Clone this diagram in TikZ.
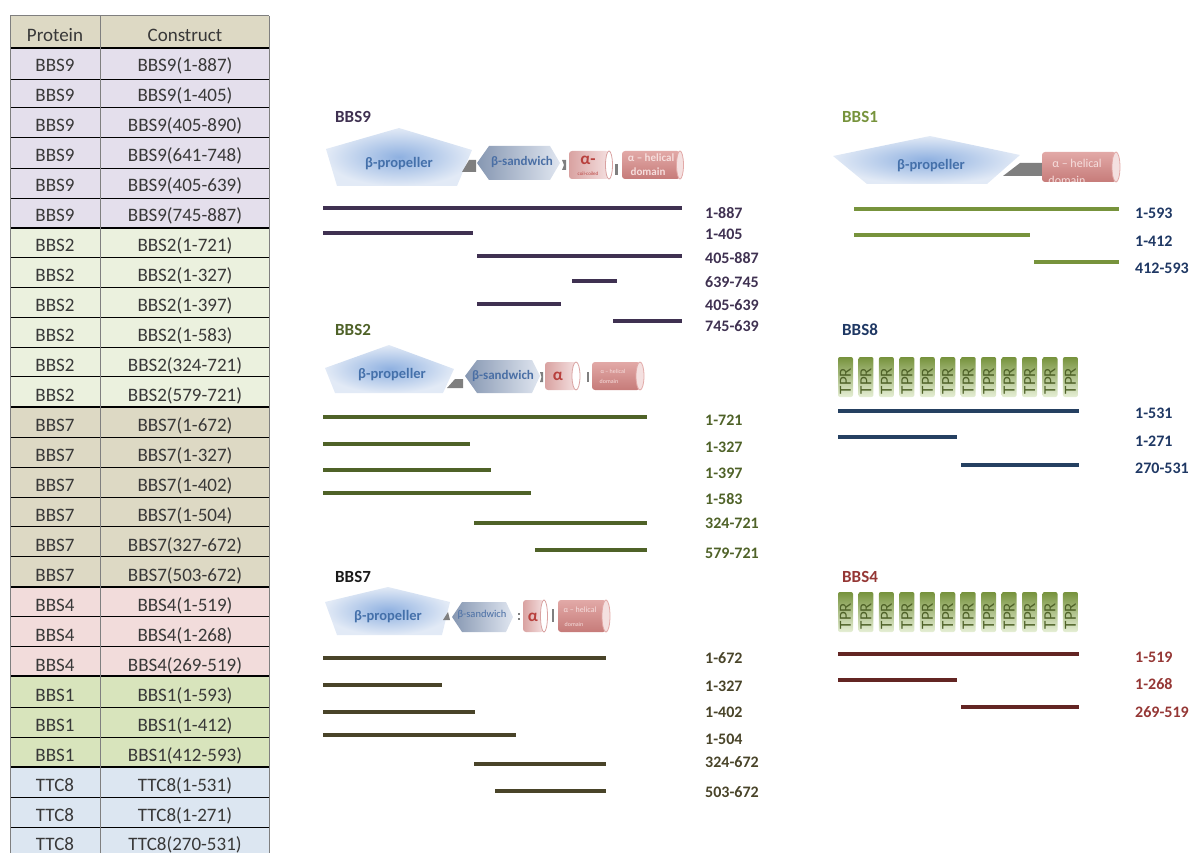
\documentclass[tikz,border=0pt]{standalone}
\usepackage{fontspec}
\setmainfont{Carlito}
\definecolor{TabInk}{HTML}{383838}
\definecolor{TabRule}{HTML}{7F7F7F}
\definecolor{TabHead}{HTML}{DDD9C4}
\definecolor{RowNine}{HTML}{E4DFEC}
\definecolor{RowTwo}{HTML}{EBF1DE}
\definecolor{RowSeven}{HTML}{DDD9C4}
\definecolor{RowFour}{HTML}{F2DCDB}
\definecolor{RowOne}{HTML}{D8E4BC}
\definecolor{RowTtc}{HTML}{DCE6F1}
\definecolor{InkNine}{HTML}{3F3151}
\definecolor{InkTwo}{HTML}{4F6228}
\definecolor{InkSeven}{HTML}{1A1A1A}
\definecolor{BarSeven}{HTML}{494429}
\definecolor{InkOne}{HTML}{77933C}
\definecolor{InkNavy}{HTML}{1F3864}
\definecolor{BarNavy}{HTML}{254061}
\definecolor{InkFour}{HTML}{953735}
\definecolor{BarFour}{HTML}{632523}
\definecolor{PropCore}{HTML}{8EB0E0}
\definecolor{PropRim}{HTML}{E2EAF6}
\definecolor{PropInk}{HTML}{4470AA}
\definecolor{SandDeep}{HTML}{8697B2}
\definecolor{SandPale}{HTML}{E0E6F0}
\definecolor{SandInk}{HTML}{4A6FA5}
\definecolor{LinkGray}{HTML}{7F7F7F}
\definecolor{CoilDeep}{HTML}{D9A2A1}
\definecolor{CoilPale}{HTML}{F4E0E0}
\definecolor{CoilInk}{HTML}{B8403D}
\definecolor{HelixPale}{HTML}{E2A9A7}
\definecolor{HelixDeep}{HTML}{C67B79}
\definecolor{HelixInk}{HTML}{F6DEDD}
\definecolor{TprDeep}{HTML}{76923C}
\definecolor{TprPale}{HTML}{E6EFD6}
\tikzset{
  every node/.style={inner sep=0pt},
  cell/.style={anchor=base, text=TabInk, font=\fontsize{19}{22}\selectfont},
  rowrule/.style={draw=black, line width=0.8pt},
  grouprule/.style={draw=black, line width=1.8pt},
  colrule/.style={draw=TabRule, line width=1pt},
  protname/.style={anchor=west, font=\fontsize{17}{20}\selectfont\bfseries},
  rangelab/.style={anchor=west, font=\fontsize{16}{19}\selectfont\bfseries},
  cbar/.style={line width=4pt},
  propeller/.style={inner color=PropCore, outer color=PropRim},
  proptext/.style={text=PropInk, font=\fontsize{14.5}{17}\selectfont\bfseries},
  sandwich/.style={left color=SandDeep, right color=SandPale},
  sandtext/.style={text=SandInk, font=\fontsize{13}{15}\selectfont\bfseries},
  linker/.style={fill=LinkGray},
  coilbody/.style={left color=CoilDeep, right color=CoilPale, rounded corners=3pt},
  coilcap/.style={fill=white, draw=CoilDeep, line width=0.8pt},
  coiltext/.style={text=CoilInk, font=\fontsize{17}{20}\selectfont\bfseries},
  tinytext/.style={text=CoilInk, font=\fontsize{5}{6}\selectfont},
  helixbody/.style={top color=HelixPale, bottom color=HelixDeep, rounded corners=3pt},
  helixcap/.style={fill=CoilPale, draw=HelixPale, line width=0.8pt},
  helixtext/.style={text=HelixInk, font=\fontsize{11}{13}\selectfont\bfseries},
  tprbox/.style={top color=TprDeep, bottom color=TprPale, rounded corners=2pt},
  tprtext/.style={rotate=90, text=InkTwo, font=\fontsize{17}{20}\selectfont},
}

\begin{document}
\begin{tikzpicture}[x=1pt, y=-1pt]
  \useasboundingbox (0,0) rectangle (1195,853);

  % Table of constructs
  \fill[TabHead] (10,16) rectangle (269,48);
  \foreach \ya/\yb/\tint in {48/228/RowNine, 228/407/RowTwo, 407/587/RowSeven,
      587/676/RowFour, 676/767/RowOne, 767/860/RowTtc}
    \fill[\tint] (10,\ya) rectangle (269,\yb);
  \foreach \y in {79,107,137,168,198,257,287,317,347,376,437,467,497,526,556,616,646,707,737,797,827}
    \draw[rowrule] (10,\y) -- (269,\y);
  \foreach \y in {48,228,407,587,676,767}
    \draw[grouprule] (10,\y) -- (269,\y);
  \draw[colrule] (10,16) -- (269,16);
  \foreach \x in {10,100,269}
    \draw[colrule] (\x,16) -- (\x,853);
  \node[cell] (headP) at (55,42) {Protein};
  \node[cell] (headC) at (185,42) {Construct};
  \foreach \prot/\cons [count=\i from 0] in {BBS9/1-887, BBS9/1-405, BBS9/405-890,
      BBS9/641-748, BBS9/405-639, BBS9/745-887, BBS2/1-721, BBS2/1-327, BBS2/1-397,
      BBS2/1-583, BBS2/324-721, BBS2/579-721, BBS7/1-672, BBS7/1-327, BBS7/1-402,
      BBS7/1-504, BBS7/327-672, BBS7/503-672, BBS4/1-519, BBS4/1-268, BBS4/269-519,
      BBS1/1-593, BBS1/1-412, BBS1/412-593, TTC8/1-531, TTC8/1-271, TTC8/270-531} {
    \node[cell] (prot\i) at (55,{48+29.96*\i+24}) {\prot};
    \node[cell] (cons\i) at (185,{48+29.96*\i+24}) {\prot(\cons)};
  }

  % BBS9 domains
  \node[protname, text=InkNine] (t9) at (335,117) {BBS9};
  \shade[propeller] (399,128) -- (472,150) -- (457,186) -- (337,186) -- (326,149) -- cycle;
  \node[proptext] (prop9) at (399,164) {β-propeller};
  \fill[linker] (462,172) -- (469,160) -- (476,160) -- (476,172) -- cycle;
  \shade[sandwich] (477,163) -- (489,146) -- (550,146) -- (560,163) -- (550,180) -- (489,180) -- cycle;
  \node[sandtext] (sand9) at (522,162) {β-sandwich};
  \fill[linker] (562,160) -- (566,160) -- (566,170) -- (562,170) -- (564,165) -- cycle;
  \shade[coilbody] (569,151) rectangle (609,179);
  \filldraw[coilcap] (609,165) ellipse [x radius=3.5, y radius=14];
  \node[coiltext] (coil9) at (588,160) {α-};
  \node[tinytext] (cc9) at (588,174) {coil-coiled};
  \fill[linker] (615,164) rectangle (618,175);
  \shade[helixbody] (622,151) rectangle (680,179);
  \filldraw[helixcap] (680,165) ellipse [x radius=3.5, y radius=14];
  \node[helixtext] (hx9) at (651,158) {α – helical};
  \node[helixtext] (dom9) at (648,172) {domain};

  % BBS9 constructs
  \foreach \a/\b/\y/\ly/\txt [count=\k] in {323/682/208/213/1-887, 323/473/233/234/1-405,
      477/682/256/258/405-887, 572/617/281/282/639-745, 477/561/304/305/405-639,
      613/682/321/326/745-639} {
    \draw[cbar, InkNine] (\a,\y) -- (\b,\y);
    \node[rangelab, text=InkNine] (r9\k) at (705,\ly) {\txt};
  }

  % BBS2 domains
  \node[protname, text=InkTwo] (t2) at (335,330) {BBS2};
  \shade[propeller] (389,345) -- (454,369) -- (443,393) -- (335,393) -- (325,368) -- cycle;
  \node[proptext] (prop2) at (392,375) {β-propeller};
  \fill[linker] (447,388) -- (455,379) -- (463,379) -- (463,388) -- cycle;
  \shade[sandwich] (465,376) -- (477,360) -- (532,360) -- (540,376) -- (532,393) -- (477,393) -- cycle;
  \node[sandtext] (sand2) at (503,376) {β-sandwich};
  \fill[linker] (540,372) -- (543,372) -- (543,382) -- (540,382) -- (541.5,377) -- cycle;
  \shade[coilbody] (545,362) rectangle (576,390);
  \filldraw[coilcap] (576,376) ellipse [x radius=4, y radius=14];
  \node[coiltext] (coil2) at (558,376) {α};
  \fill[linker] (587,372) rectangle (589,382);
  \shade[helixbody] (592,362) rectangle (640,390);
  \filldraw[helixcap] (640,376) ellipse [x radius=4, y radius=14];
  \node[helixtext, font=\fontsize{6}{7}\selectfont] (hx2) at (613,371) {α – helical};
  \node[helixtext, font=\fontsize{6}{7}\selectfont] (dom2) at (609,381) {domain};

  % BBS2 constructs
  \foreach \a/\b/\y/\ly/\txt [count=\k] in {323/647/417/420/1-721, 323/470/444/447/1-327,
      323/491/470/473/1-397, 323/531/493/499/1-583, 474/647/523/523/324-721,
      535/647/550/553/579-721} {
    \draw[cbar, InkTwo] (\a,\y) -- (\b,\y);
    \node[rangelab, text=InkTwo] (r2\k) at (705,\ly) {\txt};
  }

  % BBS7 domains
  \node[protname, text=InkSeven] (t7) at (335,577) {BBS7};
  \shade[propeller] (388,587) -- (450,602) -- (442,635) -- (337,635) -- (325,602) -- cycle;
  \node[proptext] (prop7) at (388,617) {β-propeller};
  \fill[linker] (443,620) -- (448,612) -- (450,620) -- cycle;
  \shade[sandwich] (452,617) -- (462,602) -- (506,602) -- (513,617) -- (506,632) -- (462,632) -- cycle;
  \node[sandtext, font=\fontsize{10.5}{12}\selectfont] (sand7) at (482,615) {β-sandwich};
  \fill[linker] (518,613) rectangle (520,615);
  \fill[linker] (518,618) rectangle (520,620);
  \shade[coilbody] (523,600) rectangle (544,632);
  \filldraw[coilcap] (544,616) ellipse [x radius=3.5, y radius=16];
  \node[coiltext] (coil7) at (533,617) {α};
  \fill[linker] (552,609) rectangle (554,622);
  \shade[helixbody] (558,600) rectangle (606,632);
  \filldraw[helixcap] (606,616) ellipse [x radius=4, y radius=16];
  \node[helixtext, font=\fontsize{8}{9}\selectfont] (hx7) at (580,610) {α – helical};
  \node[helixtext, font=\fontsize{6}{7}\selectfont] (dom7) at (574,624) {domain};

  % BBS7 constructs
  \foreach \a/\b/\y/\ly/\txt [count=\k] in {323/606/658/658/1-672, 323/442/685/686/1-327,
      323/475/712/712/1-402, 323/516/735/739/1-504, 474/606/764/762/324-672,
      495/606/791/792/503-672} {
    \draw[cbar, BarSeven] (\a,\y) -- (\b,\y);
    \node[rangelab, text=BarSeven] (r7\k) at (705,\ly) {\txt};
  }

  % BBS1 domains
  \node[protname, text=InkOne] (t1) at (842,117) {BBS1};
  \shade[propeller] (930,136) -- (1020,155) -- (987,184) -- (867,184) -- (833,156) -- cycle;
  \node[proptext] (prop1) at (931,166) {β-propeller};
  \fill[linker] (1003,176) -- (1020,163) -- (1042,163) -- (1042,176) -- cycle;
  \shade[helixbody] (1042,152) rectangle (1116,182);
  \filldraw[helixcap] (1116,167) ellipse [x radius=4, y radius=15];
  \begin{scope}
    \clip (1042,152) rectangle (1112,182);
    \node[helixtext, font=\fontsize{12}{14}\selectfont] (hx1) at (1077,163) {α – helical};
    \node[helixtext, font=\fontsize{12}{14}\selectfont] (dom1) at (1067,180) {domain};
  \end{scope}

  % BBS1 constructs
  \foreach \a/\b/\y/\ly/\txt [count=\k] in {854/1119/209/213/1-593, 854/1030/235/241/1-412,
      1034/1119/262/268/412-593} {
    \draw[cbar, InkOne] (\a,\y) -- (\b,\y);
    \node[rangelab, text=InkNavy] (r1\k) at (1135,\ly) {\txt};
  }

  % BBS8 repeats and constructs
  \node[protname, text=InkNavy] (t8) at (842,330) {BBS8};
  \foreach \k in {0,...,11} {
    \shade[tprbox] ({838+20.45*\k},357) rectangle ({853+20.45*\k},397);
    \node[tprtext] (tprE\k) at ({845.5+20.45*\k},381) {TPR};
  }
  \foreach \a/\b/\y/\ly/\txt [count=\k] in {838/1079/411/413/1-531, 838/957/437/441/1-271,
      961/1079/465/468/270-531} {
    \draw[cbar, BarNavy] (\a,\y) -- (\b,\y);
    \node[rangelab, text=InkNavy] (r8\k) at (1135,\ly) {\txt};
  }

  % BBS4 repeats and constructs
  \node[protname, text=InkFour] (t4) at (842,577) {BBS4};
  \foreach \k in {0,...,11} {
    \shade[tprbox] ({838+20.45*\k},592) rectangle ({853+20.45*\k},632);
    \node[tprtext] (tprF\k) at ({845.5+20.45*\k},616) {TPR};
  }
  \foreach \a/\b/\y/\ly/\txt [count=\k] in {838/1079/654/657/1-519, 838/957/680/684/1-268,
      961/1079/707/712/269-519} {
    \draw[cbar, BarFour] (\a,\y) -- (\b,\y);
    \node[rangelab, text=InkFour] (r4\k) at (1135,\ly) {\txt};
  }
\end{tikzpicture}
\end{document}
